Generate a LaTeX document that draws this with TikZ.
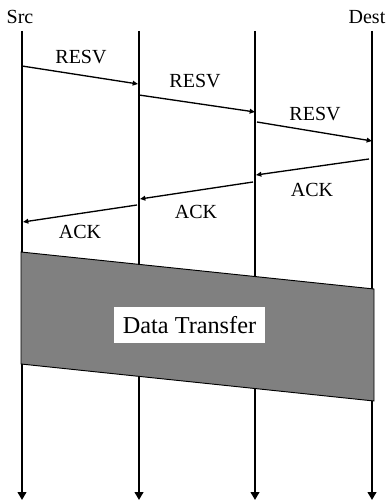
\documentclass[tikz,border=0pt]{standalone}
\usepackage{fontspec}
\setmainfont{Liberation Serif}
\usetikzlibrary{arrows.meta}

\begin{document}
\begin{tikzpicture}[x=0.75pt, y=-0.75pt,
  timeline/.style={line width=2.2pt, -{Triangle[length=6pt,width=6.5pt]}},
  msg/.style={line width=1pt, -{Triangle[length=4pt,width=3.5pt]}},
  lbl/.style={font=\fontsize{15}{17}\selectfont, inner sep=0pt}]
  \useasboundingbox (0,0) rectangle (390,502);

  % timelines
  \foreach \i/\x in {1/22,2/139,3/255,4/372} {
    \coordinate (top\i) at (\x,31);
    \coordinate (bot\i) at (\x,500);
    \draw[timeline] (top\i) -- (bot\i);
  }
  \node[lbl] (src) at (20,17) {Src};
  \node[lbl] (dest) at (367,17) {Dest};

  % data transfer band
  \draw[fill=gray, line width=0.7pt] (21,252) -- (374,289) -- (374,401) -- (21,364) -- cycle;
  \node[fill=white, font=\fontsize{18.2}{20}\selectfont, minimum width=113pt, minimum height=27pt, inner sep=0pt] (data) at (189.5,325) {Data Transfer};

  % RESV and ACK messages
  \foreach \n/\ax/\ay/\bx/\by/\lx/\ly/\txt in {
      1/22/66/138/84/81/57/RESV,
      2/139/95/255/112/195/81/RESV,
      3/257/122/372/141/315/114/RESV,
      4/369/159/256/175/312/190/ACK,
      5/253/182/140/199/196/212/ACK,
      6/137/205/23/222/80/232/ACK} {
    \coordinate (s\n) at (\ax,\ay);
    \coordinate (e\n) at (\bx,\by);
    \draw[msg] (s\n) -- (e\n);
    \node[lbl] (l\n) at (\lx,\ly) {\txt};
  }
\end{tikzpicture}
\end{document}
